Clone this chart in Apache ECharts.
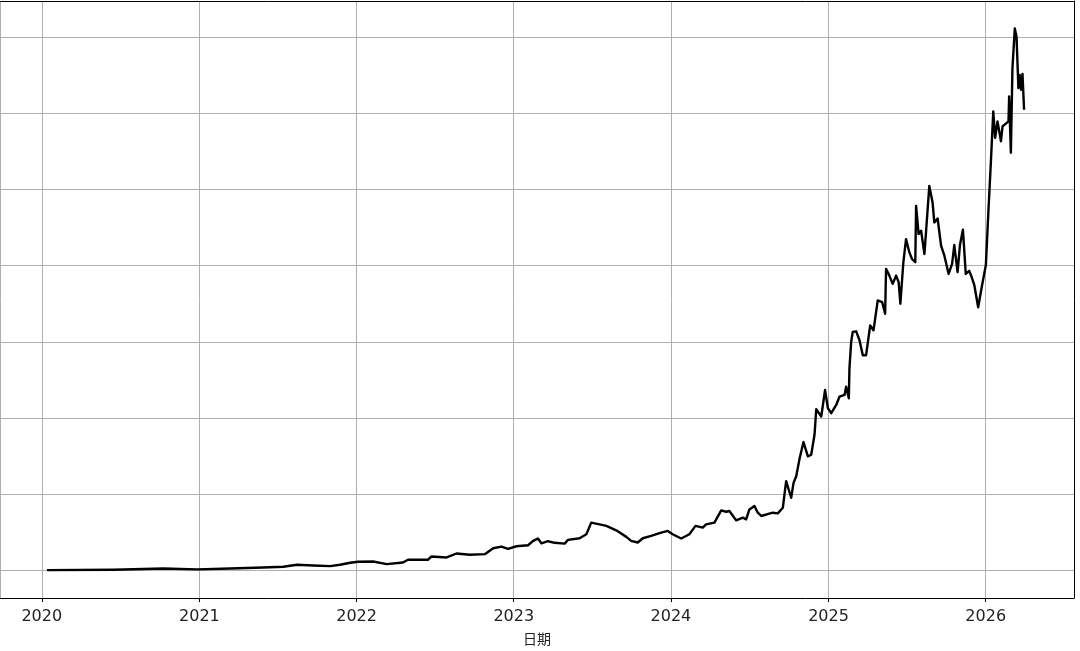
<!DOCTYPE html>
<html>
<head>
<meta charset="utf-8">
<script src="https://cdn.jsdelivr.net/npm/echarts@6/dist/echarts.min.js"></script>
<style>
html,body{margin:0;padding:0;background:#fff;}
#chart{width:1080px;height:651px;}
</style>
</head>
<body>
<div id="chart"></div>
<script>
// Dates as decimal years
const years = [
2020.033,2020.454,2020.771,2020.987,2021.197,2021.406,2021.533,2021.622,2021.724,2021.832,
2021.895,2021.959,2022.010,2022.105,2022.192,2022.295,2022.327,2022.454,2022.477,2022.573,
2022.636,2022.721,2022.816,2022.869,2022.922,2022.964,2023.017,2023.091,2023.123,2023.154,
2023.176,2023.218,2023.260,2023.324,2023.345,2023.419,2023.462,2023.493,2023.546,2023.589,
2023.652,2023.716,2023.747,2023.789,2023.821,2023.874,2023.938,2023.980,2024.011,2024.065,
2024.117,2024.156,2024.202,2024.223,2024.276,2024.319,2024.350,2024.371,2024.414,2024.456,
2024.477,2024.498,2024.530,2024.551,2024.573,2024.646,2024.678,2024.710,2024.731,2024.763,
2024.778,2024.795,2024.816,2024.841,2024.869,2024.890,2024.911,2024.922,2024.954,2024.978,
2024.996,2025.017,2025.049,2025.070,2025.102,2025.112,2025.129,2025.133,2025.144,2025.154,
2025.176,2025.197,2025.218,2025.239,2025.265,2025.286,2025.313,2025.341,2025.360,2025.366,
2025.387,2025.408,2025.430,2025.446,2025.457,2025.476,2025.493,2025.514,2025.531,2025.552,
2025.557,2025.573,2025.589,2025.610,2025.620,2025.641,2025.652,2025.662,2025.673,2025.694,
2025.716,2025.737,2025.764,2025.786,2025.800,2025.821,2025.836,2025.855,2025.873,2025.895,
2025.908,2025.927,2025.952,2025.975,2026.001,2026.018,2026.033,2026.048,2026.060,2026.075,
2026.097,2026.107,2026.145,2026.149,2026.160,2026.170,2026.185,2026.196,2026.208,2026.216,
2026.225,2026.234,2026.241,2026.244
];
const values = [
0.4,0.9,2.6,1.3,2.6,3.9,4.8,7.4,6.5,5.6,
7.4,10.1,11.4,11.7,8.2,10.4,14.0,14.0,18.3,17.0,
22.2,20.5,21.3,29.1,31.3,28.3,31.7,33.0,38.8,41.8,
35.6,38.3,36.2,35.2,40.1,42.2,47.4,62.7,60.4,58.4,
52.6,44.0,38.8,36.6,42.2,45.3,49.6,51.8,47.4,41.8,
47.4,58.4,56.1,60.4,62.7,78.7,77.0,77.9,65.7,69.2,
67.0,80.0,84.5,75.7,71.4,75.7,74.8,82.2,117.1,95.3,
114.9,123.6,146.6,168.4,149.7,151.8,177.9,211.5,202.0,236.7,
212.8,206.3,217.1,228.1,230.2,241.1,225.9,265.0,299.9,312.9,
313.7,302.0,282.4,282.4,321.5,315.0,354.2,352.1,336.8,395.6,
386.8,376.0,386.8,378.2,349.9,404.3,434.7,417.4,408.6,404.3,
478.2,441.3,445.6,415.1,443.5,504.3,504.3,482.6,456.5,461.8,
426.0,412.9,389.0,402.1,426.9,391.3,426.9,447.1,389.0,393.0,
386.4,374.7,345.3,372.1,400.8,475.2,536.6,602.2,567.5,589.2,
563.1,582.6,589.2,621.8,547.9,658.9,711.1,700.1,632.8,650.1,
630.6,651.4,648.8,604.5
];
const axisName = '日期';
const xMinDate = '2019-09-26';
const xMaxDate = '2026-07-25';
const yMin = -36.2;
const yMax = 747.1;

function toTime(y) {
  const fy = Math.floor(y);
  const a = Date.UTC(fy, 0, 1), b = Date.UTC(fy + 1, 0, 1);
  return a + (y - fy) * (b - a);
}
const data = years.map((y, i) => [toTime(y), values[i]]);
const DAY = 24 * 3600 * 1000;
const xMin = Date.parse(xMinDate + 'T00:00:00Z');
const xMax = Date.parse(xMaxDate + 'T00:00:00Z');

const chart = echarts.init(document.getElementById('chart'), null, {renderer: 'canvas'});
chart.setOption({
  useUTC: true,
  animation: false,
  backgroundColor: '#fff',
  grid: {left: 0, right: 6, top: 1, bottom: 50, show: false},
  xAxis: [{
    type: 'time',
    min: xMin, max: xMax,
    splitNumber: 7,
    minInterval: 365 * DAY,
    maxInterval: 366 * DAY,
    name: axisName,
    nameLocation: 'middle',
    nameGap: 34,
    nameTextStyle: {fontFamily: 'Noto Sans CJK SC', fontSize: 14, color: '#222'},
    axisLine: {show: true, onZero: false, lineStyle: {color: '#000', width: 1}},
    axisTick: {show: true, length: 4, lineStyle: {color: '#000', width: 1}},
    axisLabel: {
      show: true, margin: 11, fontFamily: 'DejaVu Sans', fontSize: 16, color: '#222',
      showMinLabel: false, showMaxLabel: false,
      formatter: function (v) { return String(new Date(v).getUTCFullYear()); }
    },
    splitLine: {show: true, lineStyle: {color: '#b0b0b0', width: 1}}
  }, {
    type: 'time', position: 'top',
    min: xMin, max: xMax,
    axisLine: {show: true, onZero: false, lineStyle: {color: '#000', width: 1}},
    axisTick: {show: false}, axisLabel: {show: false}, splitLine: {show: false}
  }],
  yAxis: [{
    type: 'value',
    min: yMin, max: yMax,
    splitNumber: 7,
    minInterval: 100,
    maxInterval: 100,
    axisLine: {show: false},
    axisTick: {show: false},
    axisLabel: {show: false},
    splitLine: {show: true, lineStyle: {color: '#b0b0b0', width: 1}}
  }, {
    type: 'value', position: 'right',
    min: yMin, max: yMax,
    axisLine: {show: true, onZero: false, lineStyle: {color: '#000', width: 1}},
    axisTick: {show: false}, axisLabel: {show: false}, splitLine: {show: false}
  }],
  series: [{
    type: 'line',
    data: data,
    showSymbol: false,
    symbol: 'none',
    lineStyle: {color: '#000', width: 2.4, join: 'round'},
    itemStyle: {color: '#000'}
  }]
});
</script>
</body>
</html>
